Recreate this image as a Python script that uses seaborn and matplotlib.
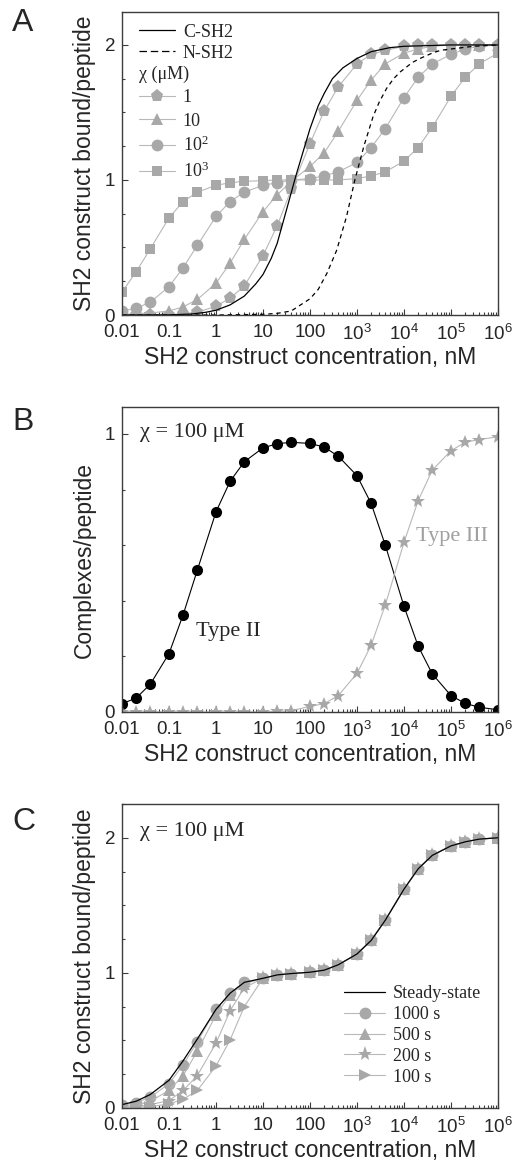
import matplotlib
matplotlib.use('Agg')
import matplotlib.pyplot as plt
from matplotlib.lines import Line2D
from matplotlib.ticker import FixedLocator, LogLocator, MultipleLocator, NullFormatter
import seaborn as sns

# simulated concentrations (nM), shared by all marker series
conc = [0.01, 0.02, 0.04, 0.1, 0.2, 0.4, 1, 2, 4, 10, 20, 40, 100, 200, 400,
        1e3, 2e3, 4e3, 1e4, 2e4, 4e4, 1e5, 2e5, 4e5, 1e6]

# panel A: bound/peptide for different chi (uM)
chi_1 = [0.0, 0.0, 0.0, 0.0, 0.01, 0.02, 0.065, 0.125, 0.215, 0.44, 0.66, 0.93, 1.27,
         1.51, 1.69, 1.86, 1.93, 1.96, 1.99, 2.0, 2.0, 2.0, 2.0, 2.0, 2.0]
chi_10 = [0.005, 0.01, 0.015, 0.03, 0.06, 0.115, 0.235, 0.385, 0.56, 0.765, 0.89, 0.99, 1.10,
          1.20, 1.36, 1.59, 1.74, 1.86, 1.94, 1.97, 1.99, 2.0, 2.0, 2.0, 2.0]
chi_100 = [0.03, 0.05, 0.095, 0.21, 0.35, 0.515, 0.73, 0.84, 0.91, 0.96, 0.98, 1.0, 1.01,
           1.03, 1.06, 1.13, 1.24, 1.38, 1.61, 1.76, 1.86, 1.93, 1.97, 1.99, 2.0]
chi_1000 = [0.17, 0.32, 0.49, 0.72, 0.84, 0.91, 0.96, 0.98, 0.99, 0.995, 1.0, 1.0, 1.0,
            1.0, 1.0, 1.01, 1.03, 1.06, 1.14, 1.24, 1.39, 1.62, 1.76, 1.86, 1.94]
chi_labels = ['1', '10', r'10$^2$', r'10$^3$']

# single-domain reference curves
csh2_x = [0.01, 0.1, 0.3, 0.6, 1, 2, 4, 7, 10, 15, 20, 30, 50, 70, 100, 150, 200, 300,
          500, 1000, 2000, 5000, 1e4, 1e5, 1e6]
csh2_y = [0.0, 0.001, 0.007, 0.02, 0.035, 0.075, 0.14, 0.23, 0.3, 0.42, 0.53, 0.75, 1.03,
          1.2, 1.38, 1.55, 1.64, 1.75, 1.83, 1.9, 1.95, 1.98, 1.99, 2.0, 2.0]
nsh2_x = [0.01, 1, 10, 20, 40, 60, 100, 150, 230, 370, 600, 900, 1400, 2200, 3000, 4300,
          6000, 8300, 1.5e4, 2.2e4, 4e4, 6e4, 1e5, 3e5, 1e6]
nsh2_y = [0.0, 0.0, 0.005, 0.012, 0.03, 0.07, 0.12, 0.19, 0.31, 0.48, 0.73, 1.0, 1.25,
          1.47, 1.58, 1.68, 1.75, 1.80, 1.87, 1.90, 1.94, 1.96, 1.97, 1.99, 2.0]

# panel B: complexes/peptide at chi = 100 uM
type2 = [0.03, 0.05, 0.10, 0.21, 0.35, 0.51, 0.72, 0.83, 0.90, 0.95, 0.965, 0.97, 0.966,
         0.953, 0.92, 0.85, 0.75, 0.60, 0.38, 0.237, 0.137, 0.059, 0.031, 0.017, 0.008]
type3 = [0.0, 0.0, 0.0, 0.0, 0.0, 0.0, 0.0, 0.0, 0.0, 0.0, 0.002, 0.005, 0.02, 0.03,
         0.059, 0.139, 0.24, 0.385, 0.61, 0.76, 0.87, 0.94, 0.97, 0.98, 0.99]

# panel C: time courses at chi = 100 uM
steady = [0.025, 0.05, 0.1, 0.205, 0.35, 0.51, 0.73, 0.85, 0.93, 0.96, 0.985, 0.995, 1.005,
          1.02, 1.06, 1.14, 1.24, 1.39, 1.62, 1.77, 1.87, 1.94, 1.97, 1.99, 2.0]
t1000 = [0.02, 0.04, 0.08, 0.18, 0.32, 0.49, 0.73, 0.85, 0.93, 0.96, 0.985, 0.995, 1.005,
         1.02, 1.06, 1.14, 1.24, 1.39, 1.62, 1.77, 1.87, 1.94, 1.97, 1.99, 2.0]
t500 = [0.01, 0.02, 0.05, 0.13, 0.24, 0.42, 0.69, 0.84, 0.92, 0.96, 0.985, 0.995, 1.005,
        1.02, 1.06, 1.14, 1.24, 1.39, 1.62, 1.77, 1.87, 1.94, 1.97, 1.99, 2.0]
t200 = [0.005, 0.01, 0.025, 0.055, 0.13, 0.24, 0.48, 0.72, 0.89, 0.96, 0.985, 0.995, 1.005,
        1.02, 1.06, 1.14, 1.24, 1.39, 1.62, 1.77, 1.87, 1.94, 1.97, 1.99, 2.0]
t100 = [0.0, 0.005, 0.01, 0.03, 0.065, 0.13, 0.31, 0.505, 0.75, 0.96, 0.985, 0.995, 1.005,
        1.02, 1.06, 1.14, 1.24, 1.39, 1.62, 1.77, 1.87, 1.94, 1.97, 1.99, 2.0]
time_labels = ['Steady-state', '1000 s', '500 s', '200 s', '100 s']

xtick_vals = [0.01, 0.1, 1, 10, 100, 1e3, 1e4, 1e5, 1e6]
xtick_labels = ['0.01', '0.1', '1', '10', '100', r'10$^3$', r'10$^4$', r'10$^5$', r'10$^6$']

sns.set_style('ticks')
plt.rcParams['font.family'] = ['Liberation Sans', 'DejaVu Sans']
plt.rcParams['mathtext.default'] = 'regular'
plt.rcParams['axes.edgecolor'] = '#3c3c3c'
plt.rcParams['axes.linewidth'] = 1.0

GRAY = '#a8a8a8'
LGRAY = '#b8b8b8'
serif = {'family': ['Liberation Serif', 'DejaVu Serif'], 'size': 13}
big_serif = {'family': ['Liberation Serif', 'DejaVu Serif'], 'size': 16}

fig = plt.figure(figsize=(5.14, 11.69), dpi=100)
W, H = 514, 1169


def make_axes(top, bottom):
    return fig.add_axes([122 / W, 1 - bottom / H, 376 / W, (bottom - top) / H])


def style_axes(ax, ymax, ystep):
    ax.set_xscale('log')
    ax.set_xlim(0.01, 1e6)
    ax.set_ylim(0, ymax)
    ax.xaxis.set_major_locator(FixedLocator(xtick_vals))
    ax.set_xticklabels(xtick_labels)
    ax.xaxis.set_minor_locator(LogLocator(base=10, subs=range(2, 10), numticks=20))
    ax.xaxis.set_minor_formatter(NullFormatter())
    ax.yaxis.set_minor_locator(MultipleLocator(ystep))
    ax.tick_params(which='both', direction='in', width=0.8, color='#3c3c3c',
                   labelsize=13.5, top=False, right=False)
    ax.tick_params(which='major', length=4)
    ax.tick_params(which='minor', length=2.5)
    ax.tick_params(axis='x', which='major', pad=6.5)
    ax.tick_params(axis='y', which='major', pad=5)
    ax.set_xlabel('SH2 construct concentration, nM', fontsize=16.5, labelpad=1)


def series(ax, y, marker, ms, x=conc, color=GRAY, lw=0.8, lcolor=LGRAY):
    sns.lineplot(x=x, y=y, ax=ax, color=lcolor, lw=lw, marker=marker, ms=ms,
                 mfc=color, mec=color, mew=0)
    return ax.lines[-1]


# ---------------- panel A ----------------
axA = make_axes(12, 315)
hA = []
for y, m, ms in zip([chi_1, chi_10, chi_100, chi_1000], ['p', '^', 'o', 's'], [9.5, 9, 8.5, 7.5]):
    hA.append(series(axA, y, m, ms))
sns.lineplot(x=csh2_x, y=csh2_y, ax=axA, color='black', lw=0.9)
h_c = axA.lines[-1]
sns.lineplot(x=nsh2_x, y=nsh2_y, ax=axA, color='black', lw=0.9)
axA.lines[-1].set_linestyle((0, (3.5, 3)))
style_axes(axA, 2.244, 0.25)
axA.set_yticks([0, 1, 2])
axA.set_ylabel('SH2 construct bound/peptide', fontsize=16.5, labelpad=6)
h_n = Line2D([], [], color='black', lw=0.9, linestyle=(0, (6, 3)))
leg1 = axA.legend([h_c, h_n], ['C-SH2', 'N-SH2'], loc='upper left', bbox_to_anchor=(0.025, 0.985),
                  frameon=False, prop=serif, handlelength=2.0, handletextpad=0.45,
                  labelspacing=0.22, borderaxespad=0.25, borderpad=0.15)
axA.add_artist(leg1)
axA.legend(hA, chi_labels, title='\u03c7 (\u03bcM)', title_fontproperties=serif, alignment='left',
           loc='upper left', bbox_to_anchor=(0.025, 0.848), frameon=False, prop=serif,
           handlelength=2.0, handletextpad=0.45, labelspacing=0.36, borderaxespad=0.25,
           borderpad=0.15)

# ---------------- panel B ----------------
axB = make_axes(407, 712)
series(axB, type2, 'o', 8, color='black', lcolor='black')
series(axB, type3, '*', 10.5, color=GRAY, lcolor=LGRAY)
style_axes(axB, 1.097, 0.2)
axB.set_yticks([0, 1])
axB.set_ylabel('Complexes/peptide', fontsize=16.5, labelpad=6)
axB.text(0.048, 0.915, '\u03c7 = 100 \u03bcM', transform=axB.transAxes, va='center',
         fontdict=big_serif)
axB.text(1.8, 0.29, 'Type II', ha='center', va='center', fontdict=big_serif)
axB.text(1.07e5, 0.63, 'Type III', ha='center', va='center', color='#a0a0a0',
         fontdict=big_serif)

# ---------------- panel C ----------------
axC = make_axes(804, 1108)
hC = [series(axC, y, m, ms) for y, m, ms in
      zip([t1000, t500, t200, t100], ['o', '^', '*', '>'], [8.5, 9, 11, 9])]
sns.lineplot(x=conc, y=steady, ax=axC, color='black', lw=0.9)
h_s = axC.lines[-1]
style_axes(axC, 2.25, 0.25)
axC.set_yticks([0, 1, 2])
axC.set_ylabel('SH2 construct bound/peptide', fontsize=16.5, labelpad=6)
axC.text(0.048, 0.908, '\u03c7 = 100 \u03bcM', transform=axC.transAxes, va='center',
         fontdict=big_serif)
axC.legend([h_s] + hC, time_labels, loc='upper left', bbox_to_anchor=(0.59, 0.405),
           frameon=False, prop=serif, handlelength=2.3, handletextpad=0.4,
           labelspacing=0.22, borderaxespad=0, borderpad=0)

# panel letters
for lab, yc in zip('ABC', [23, 422, 822]):
    fig.text(12 / W, 1 - yc / H, lab, fontsize=23, va='center', ha='left')

fig.savefig('out.png', dpi=100)
